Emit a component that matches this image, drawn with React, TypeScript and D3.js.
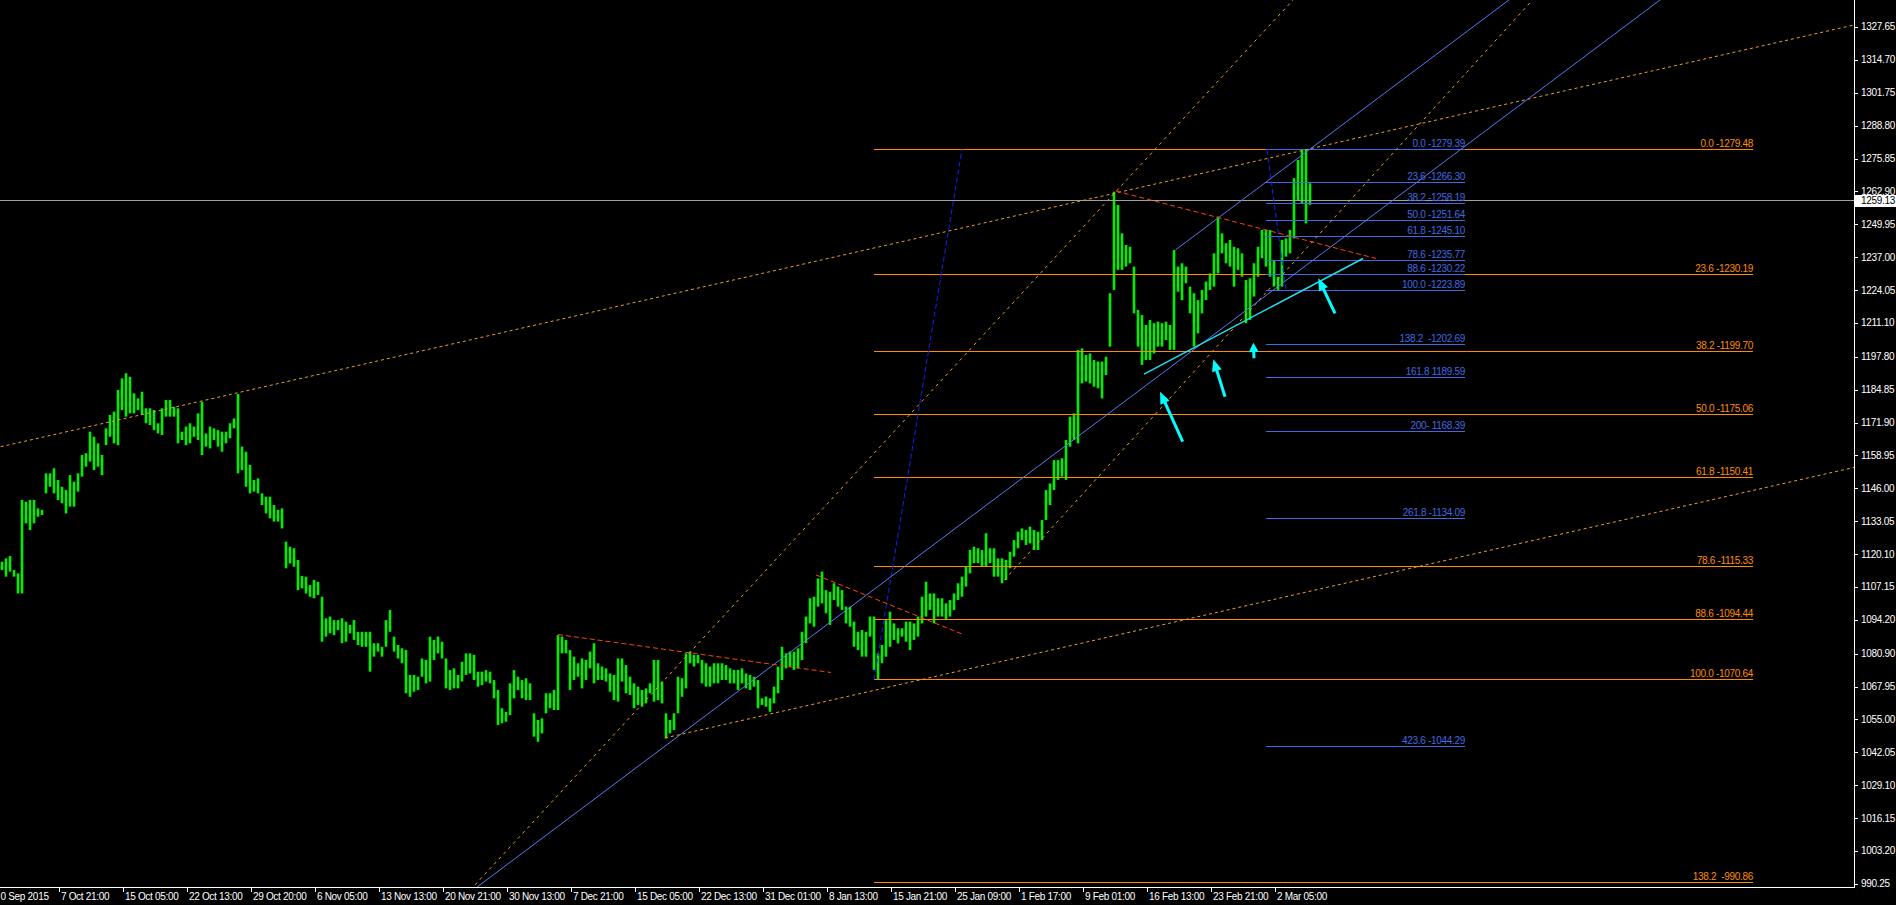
import React from 'react';
import * as d3 from 'd3';

// ---------- DATA ----------
// H4 gold bars, aggregated two bars per entry (high / low prices)
const highs: number[] = [
  1117.1, 1118.4, 1119.3, 1113.8, 1112.5, 1141.4, 1140.7, 1141.4, 1141.4, 1138.1,
  1137.5, 1151.9, 1151.9, 1153.9, 1149.3, 1146.6, 1145.3, 1151.2, 1148.6, 1151.9,
  1159.1, 1159.8, 1168.3, 1166.3, 1163.7, 1159.1, 1169.6, 1174.9, 1176.2, 1184.7,
  1189.3, 1191.3, 1189.9, 1183.4, 1181.4, 1184.0, 1177.5, 1177.5, 1176.8, 1171.6,
  1177.5, 1180.8, 1180.8, 1178.1, 1177.5, 1168.3, 1170.3, 1171.6, 1170.3, 1175.5,
  1180.1, 1167.6, 1170.3, 1169.6, 1168.9, 1168.3, 1168.3, 1171.6, 1173.5, 1183.1,
  1162.4, 1160.4, 1155.2, 1149.3, 1149.9, 1144.0, 1142.7, 1142.7, 1139.4, 1137.5,
  1138.1, 1125.0, 1123.0, 1122.4, 1117.8, 1111.5, 1111.2, 1107.9, 1109.9, 1109.2,
  1103.3, 1094.8, 1095.5, 1094.1, 1094.1, 1094.8, 1093.5, 1092.2, 1094.1, 1089.5,
  1089.5, 1089.5, 1089.5, 1085.0, 1085.0, 1083.6, 1094.1, 1098.1, 1087.6, 1084.3,
  1083.0, 1082.3, 1072.5, 1072.5, 1071.8, 1079.0, 1078.4, 1087.6, 1086.3, 1087.6,
  1085.6, 1079.0, 1074.4, 1075.1, 1072.5, 1077.7, 1081.0, 1081.0, 1080.4, 1073.8,
  1073.8, 1074.4, 1073.8, 1070.5, 1066.6, 1059.4, 1058.0, 1069.2, 1074.4, 1071.8,
  1070.5, 1071.2, 1069.2, 1057.4, 1054.8, 1055.4, 1065.3, 1065.3, 1066.6, 1088.2,
  1087.6, 1086.3, 1082.3, 1079.7, 1077.1, 1079.0, 1078.4, 1081.7, 1085.0, 1077.1,
  1075.8, 1075.1, 1073.1, 1072.5, 1079.0, 1079.0, 1076.4, 1071.8, 1069.2, 1067.9,
  1066.6, 1067.2, 1069.2, 1078.4, 1078.4, 1069.9, 1057.4, 1054.8, 1057.4, 1071.8,
  1071.2, 1081.0, 1081.7, 1080.4, 1080.4, 1078.4, 1077.1, 1075.8, 1077.1, 1077.1,
  1077.1, 1076.4, 1075.1, 1074.5, 1074.5, 1075.1, 1073.1, 1072.5, 1071.8, 1070.5,
  1063.3, 1064.0, 1063.3, 1067.9, 1075.8, 1083.6, 1081.0, 1081.7, 1081.7, 1083.0,
  1089.5, 1095.5, 1102.7, 1103.3, 1110.5, 1113.2, 1105.9, 1105.3, 1108.6, 1107.3,
  1105.9, 1099.4, 1099.4, 1093.5, 1089.5, 1090.2, 1089.5, 1095.5, 1095.5, 1081.0,
  1084.3, 1094.1, 1097.4, 1092.8, 1090.9, 1090.9, 1093.5, 1093.5, 1092.8, 1095.5,
  1103.3, 1109.2, 1104.6, 1104.6, 1102.7, 1102.7, 1100.7, 1102.0, 1104.6, 1108.6,
  1111.2, 1115.1, 1121.7, 1123.0, 1122.4, 1121.7, 1128.3, 1122.4, 1122.4, 1118.4,
  1118.4, 1117.8, 1121.0, 1125.6, 1128.9, 1130.2, 1129.6, 1130.9, 1129.6, 1128.9,
  1133.5, 1145.3, 1147.9, 1157.1, 1157.1, 1157.8, 1165.0, 1174.2, 1175.5, 1200.5,
  1201.1, 1198.5, 1199.1, 1196.5, 1195.9, 1195.9, 1197.8, 1222.8, 1262.8, 1257.6,
  1246.4, 1241.8, 1241.1, 1233.3, 1216.2, 1214.2, 1210.3, 1212.3, 1211.0, 1211.6,
  1211.0, 1211.6, 1210.3, 1239.8, 1233.3, 1234.6, 1233.3, 1225.4, 1222.8, 1220.1,
  1224.1, 1227.4, 1230.6, 1238.5, 1253.0, 1246.4, 1242.5, 1243.8, 1241.1, 1240.5,
  1238.5, 1228.0, 1228.7, 1234.6, 1241.1, 1247.7, 1247.7, 1247.7, 1235.9, 1229.3,
  1243.8, 1244.4, 1247.7, 1268.1, 1275.3, 1279.2, 1279.5, 1266.1,
];
const lows: number[] = [
  1113.8, 1111.2, 1113.2, 1111.2, 1104.6, 1104.6, 1132.2, 1129.6, 1132.2, 1134.8,
  1135.5, 1144.0, 1146.6, 1144.0, 1141.4, 1140.1, 1136.1, 1138.8, 1138.8, 1144.7,
  1150.6, 1154.5, 1156.5, 1153.2, 1154.5, 1151.2, 1163.0, 1166.3, 1163.7, 1163.0,
  1176.8, 1174.2, 1175.5, 1175.5, 1176.8, 1174.9, 1171.6, 1170.9, 1168.9, 1167.6,
  1167.0, 1174.2, 1174.2, 1174.2, 1163.7, 1165.0, 1163.0, 1163.7, 1166.3, 1165.0,
  1159.1, 1162.4, 1161.7, 1165.0, 1162.4, 1160.4, 1163.7, 1165.7, 1169.6, 1151.9,
  1153.2, 1146.6, 1144.0, 1144.7, 1144.0, 1139.4, 1136.1, 1134.2, 1132.9, 1132.9,
  1130.2, 1114.5, 1116.4, 1115.1, 1105.9, 1106.6, 1104.6, 1103.3, 1102.7, 1104.0,
  1085.6, 1087.6, 1088.9, 1088.2, 1090.2, 1085.0, 1085.6, 1088.9, 1086.3, 1084.3,
  1083.6, 1083.6, 1073.8, 1079.7, 1081.7, 1079.7, 1083.6, 1089.5, 1081.7, 1079.0,
  1077.1, 1065.3, 1063.9, 1065.9, 1066.6, 1071.8, 1069.2, 1069.9, 1078.4, 1081.0,
  1079.0, 1067.2, 1066.6, 1067.2, 1067.2, 1069.9, 1072.5, 1073.1, 1070.5, 1067.9,
  1068.5, 1069.9, 1069.2, 1063.3, 1052.8, 1053.5, 1054.1, 1056.7, 1063.3, 1066.6,
  1063.3, 1062.6, 1062.6, 1048.2, 1046.2, 1049.5, 1057.4, 1059.4, 1058.7, 1058.7,
  1081.0, 1081.0, 1066.6, 1070.5, 1071.8, 1067.2, 1070.5, 1075.1, 1069.2, 1070.5,
  1070.5, 1069.9, 1065.9, 1062.6, 1062.0, 1069.9, 1065.3, 1064.6, 1059.4, 1060.7,
  1060.0, 1061.3, 1065.3, 1062.0, 1062.6, 1061.3, 1047.5, 1049.5, 1050.8, 1057.4,
  1063.9, 1067.2, 1077.1, 1075.8, 1077.1, 1069.2, 1067.9, 1067.9, 1069.2, 1069.2,
  1070.5, 1070.5, 1069.2, 1069.2, 1066.6, 1069.2, 1067.2, 1066.6, 1067.9, 1059.4,
  1060.7, 1060.0, 1058.0, 1061.3, 1065.3, 1070.5, 1075.1, 1075.8, 1074.5, 1075.1,
  1078.4, 1085.0, 1092.8, 1091.5, 1099.4, 1100.7, 1096.8, 1092.2, 1102.0, 1099.4,
  1098.1, 1092.8, 1091.5, 1083.6, 1082.3, 1079.7, 1079.7, 1087.6, 1074.5, 1070.5,
  1077.1, 1079.7, 1083.6, 1086.3, 1084.9, 1087.6, 1085.6, 1082.3, 1086.3, 1087.6,
  1092.8, 1095.5, 1098.1, 1092.8, 1095.5, 1095.5, 1094.1, 1095.5, 1098.1, 1102.0,
  1103.3, 1107.3, 1112.5, 1116.5, 1116.5, 1115.1, 1115.1, 1116.5, 1111.2, 1111.2,
  1108.6, 1109.9, 1114.5, 1119.1, 1122.4, 1125.6, 1123.7, 1124.3, 1121.7, 1121.7,
  1125.6, 1133.5, 1139.4, 1145.3, 1149.3, 1150.6, 1149.3, 1162.4, 1165.0, 1163.7,
  1187.3, 1188.0, 1187.3, 1186.0, 1185.4, 1181.4, 1190.6, 1201.8, 1224.1, 1232.0,
  1232.0, 1233.3, 1234.6, 1214.9, 1201.8, 1194.6, 1196.5, 1196.5, 1199.1, 1201.8,
  1201.8, 1204.4, 1200.5, 1200.5, 1223.4, 1220.1, 1226.7, 1214.9, 1201.8, 1207.0,
  1214.9, 1220.1, 1224.1, 1225.4, 1230.6, 1238.5, 1234.6, 1233.3, 1225.4, 1232.0,
  1229.3, 1211.0, 1212.3, 1221.5, 1229.3, 1236.6, 1233.3, 1229.3, 1225.4, 1224.1,
  1225.4, 1237.2, 1238.5, 1244.4, 1259.5, 1258.2, 1250.3, 1257.6,
];
const FIRST_BAR = 3.3; // bar index of first entry
const BARS_PER_ENTRY = 2;

const priceTicks = [1327.65, 1314.70, 1301.75, 1288.80, 1275.85, 1262.90, 1249.95, 1237.00, 1224.05, 1211.10, 1197.80, 1184.85, 1171.90, 1158.95, 1146.00, 1133.05, 1120.10, 1107.15, 1094.20, 1080.90, 1067.95, 1055.00, 1042.05, 1029.10, 1016.15, 1003.20, 990.25];
const timeLabels = ['0 Sep 2015', '7 Oct 21:00', '15 Oct 05:00', '22 Oct 13:00', '29 Oct 20:00', '6 Nov 05:00', '13 Nov 13:00', '20 Nov 21:00', '30 Nov 13:00', '7 Dec 21:00', '15 Dec 05:00', '22 Dec 13:00', '31 Dec 01:00', '8 Jan 13:00', '15 Jan 21:00', '25 Jan 09:00', '1 Feb 17:00', '9 Feb 01:00', '16 Feb 13:00', '23 Feb 21:00', '2 Mar 05:00'];
const BARS_PER_TIME_LABEL = 32;
const bidPrice = 1259.13;

const orangeFibPrices = [1279.48, 1230.19, 1199.70, 1175.06, 1150.41, 1115.33, 1094.44, 1070.64, 990.86];
const orangeFibLabels = ['0.0 -1279.48', '23.6 -1230.19', '38.2 -1199.70', '50.0 -1175.06', '61.8 -1150.41', '78.6 -1115.33', '88.6 -1094.44', '100.0 -1070.64', '138.2  -990.86'];
const orangeFibSpan = [439.3, 878.8];
const orangeFibTrend = [[439.3, 1070.64], [483.3, 1279.48]];

const blueFibPrices = [1279.39, 1266.30, 1258.19, 1251.64, 1245.10, 1235.77, 1230.22, 1223.89, 1202.69, 1189.59, 1168.39, 1134.09, 1044.29];
const blueFibLabels = ['0.0 -1279.39', '23.6 -1266.30', '38.2 -1258.19', '50.0 -1251.64', '61.8 -1245.10', '78.6 -1235.77', '88.6 -1230.22', '100.0 -1223.89', '138.2  -1202.69', '161.8 1189.59', '200- 1168.39', '261.8 -1134.09', '423.6 -1044.29'];
const blueFibSpan = [635.3, 734.8];
const blueFibTrend = [[635.8, 1279.39], [645.3, 1223.89]];

// trend lines: anchor points [bar index, price]
const longResistance = [[120.6, 1183.5], [560.3, 1262.3]];
const longSupport = [[334.8, 1047.7], [560.3, 1088.1]];
const steepDotted1 = [[238.8, 988.98], [648.8, 1338.27]];
const steepDotted2 = [[504.55, 1109.98], [768.55, 1338.27]];
const channelLow = [[240.8, 988.98], [832.3, 1338.27]];
const channelHigh = [[590.0, 1239.83], [757.3, 1338.6]];
const cyanLine = [[574.3, 1190.98], [683.8, 1236.48]];
const redDash1 = [[281.3, 1088.43], [417.8, 1073.48]];
const redDash2 = [[410.3, 1111.88], [483.3, 1088.63]];
const redDash3 = [[560.3, 1263.06], [690.3, 1236.48]];

// arrows: [tail, head] as [bar index, price]
const arrows = [
  [[593.65, 1164.35], [582.3, 1184.04]],
  [[614.8, 1182.07], [608.95, 1196.79]],
  [[629.3, 1197.19], [628.95, 1203.33]],
  [[669.8, 1214.91], [661.45, 1228.69]],
];

// ---------- LAYOUT ----------
const W = 1896;
const H = 905;
const PLOT_R = 1854;
const PLOT_B = 887;
const FONT = "'Liberation Sans', Arial, sans-serif";

const x = d3.scaleLinear().domain([0, BARS_PER_TIME_LABEL]).range([-4.6, 59.4]);
const y = d3.scaleLinear().domain([990.86, 1279.48]).range([882.3, 149.3]);

type Pt = number[];
function extend(pts: Pt[], mode: 'both' | 'fwd' | 'seg'): Pt[] {
  const [a, b] = pts;
  if (mode === 'seg') return [a, b];
  const slope = (b[1] - a[1]) / (b[0] - a[0]);
  const at = (bb: number) => [bb, a[1] + slope * (bb - a[0])];
  return mode === 'both' ? [at(-50), at(1100)] : [a, at(1100)];
}

const TLine = ({ pts, mode, color, dash, width = 1 }: any) => {
  const [p1, p2] = extend(pts, mode);
  return (
    <line x1={x(p1[0])} y1={y(p1[1])} x2={x(p2[0])} y2={y(p2[1])}
      stroke={color} strokeWidth={width} strokeDasharray={dash} />
  );
};

const Arrow = ({ tail, head }: any) => {
  const tx = x(tail[0]), ty = y(tail[1]);
  const hx = x(head[0]), hy = y(head[1]);
  const dx = hx - tx, dy = hy - ty;
  const len = Math.hypot(dx, dy);
  const ux = dx / len, uy = dy / len;
  const nx = -uy, ny = ux;
  const L = Math.min(12, len * 0.6);
  const w = 5;
  const bx = hx - ux * L, by = hy - uy * L;
  const poly = `${hx},${hy} ${bx + nx * w},${by + ny * w} ${bx - nx * w},${by - ny * w}`;
  return (
    <g>
      <line x1={tx} y1={ty} x2={bx + ux * 1} y2={by + uy * 1} stroke="#00ffff" strokeWidth={3} />
      <polygon points={poly} fill="#00ffff" />
    </g>
  );
};

export default function App() {
  const barX = (j: number) => x(FIRST_BAR + BARS_PER_ENTRY * j);
  const yBid = y(bidPrice);
  const dotOrange = '#f0a020';
  const labelProps: any = { fontSize: 10, letterSpacing: -0.3, style: { whiteSpace: 'pre' }, xmlSpace: 'preserve' };
  return (
    <svg width={W} height={H} style={{ position: 'fixed', left: 0, top: 0, display: 'block', background: '#000' }}
      fontFamily={FONT}>
      <defs>
        <clipPath id="plot"><rect x={0} y={0} width={PLOT_R} height={PLOT_B} /></clipPath>
      </defs>
      <rect x={0} y={0} width={W} height={H} fill="#000" />

      <g clipPath="url(#plot)">
        {/* price bars */}
        <g stroke="#00ee00" strokeWidth={2.6}>
          {highs.map((h, j) => (
            <line key={j} x1={barX(j)} x2={barX(j)} y1={y(h)} y2={Math.max(y(lows[j]), y(h) + 1)} />
          ))}
        </g>

        {/* bid line */}
        <line x1={0} x2={PLOT_R} y1={yBid} y2={yBid} stroke="#a0a0a0" strokeWidth={1} shapeRendering="crispEdges" />

        {/* orange fibonacci */}
        <g shapeRendering="crispEdges">
          {orangeFibPrices.map((p, i) => (
            <line key={i} x1={x(orangeFibSpan[0])} x2={x(orangeFibSpan[1])} y1={y(p)} y2={y(p)} stroke="#ff8c00" strokeWidth={1} />
          ))}
        </g>
        <g fill="#ff8c00" textAnchor="end">
          {orangeFibPrices.map((p, i) => (
            <text key={i} {...labelProps} x={x(orangeFibSpan[1])} y={y(p) - 2.5}>{orangeFibLabels[i]}</text>
          ))}
        </g>
        <TLine pts={orangeFibTrend} mode="seg" color="#1020ff" dash="5,3" />

        {/* blue fibonacci */}
        <g shapeRendering="crispEdges">
          {blueFibPrices.map((p, i) => (
            <line key={i} x1={x(blueFibSpan[0])} x2={x(blueFibSpan[1])} y1={y(p)} y2={y(p)} stroke="#4169e1" strokeWidth={1} />
          ))}
        </g>
        <g fill="#4169e1" textAnchor="end">
          {blueFibPrices.map((p, i) => (
            <text key={i} {...labelProps} x={x(blueFibSpan[1])} y={y(p) - 2.5}>{blueFibLabels[i]}</text>
          ))}
        </g>
        <TLine pts={blueFibTrend} mode="seg" color="#1020ff" dash="5,3" />

        {/* trend lines */}
        <TLine pts={longResistance} mode="both" color={dotOrange} dash="3,3" />
        <TLine pts={longSupport} mode="fwd" color={dotOrange} dash="3,3" />
        <TLine pts={steepDotted1} mode="both" color={dotOrange} dash="3,4" />
        <TLine pts={steepDotted2} mode="fwd" color={dotOrange} dash="3,4" />
        <TLine pts={channelLow} mode="both" color="#5c78f5" />
        <TLine pts={channelHigh} mode="fwd" color="#5c78f5" />
        <TLine pts={redDash1} mode="seg" color="#ff4500" dash="5,3" />
        <TLine pts={redDash2} mode="seg" color="#ff4500" dash="5,3" />
        <TLine pts={redDash3} mode="seg" color="#ff4500" dash="5,3" />
        <TLine pts={cyanLine} mode="seg" color="#20e0f0" width={1.5} />

        {arrows.map((a, i) => <Arrow key={i} tail={a[0]} head={a[1]} />)}
      </g>

      {/* axes */}
      <g stroke="#ffffff" strokeWidth={1} shapeRendering="crispEdges">
        <line x1={PLOT_R + 0.5} x2={PLOT_R + 0.5} y1={0} y2={PLOT_B + 0.5} />
        <line x1={0} x2={PLOT_R + 0.5} y1={PLOT_B + 0.5} y2={PLOT_B + 0.5} />
        {priceTicks.map((p, i) => (
          <line key={i} x1={PLOT_R + 1} x2={PLOT_R + 4} y1={Math.round(y(p)) + 0.5} y2={Math.round(y(p)) + 0.5} />
        ))}
        {timeLabels.map((t, k) => (
          <line key={k} x1={Math.round(x(k * BARS_PER_TIME_LABEL)) + 0.5} x2={Math.round(x(k * BARS_PER_TIME_LABEL)) + 0.5} y1={PLOT_B} y2={PLOT_B + 5} />
        ))}
      </g>
      <g fill="#ffffff">
        {priceTicks.map((p, i) => (
          <text key={i} {...labelProps} x={PLOT_R + 7} y={y(p) + 3.5}>{p.toFixed(2)}</text>
        ))}
        {timeLabels.map((t, k) => (
          <text key={k} {...labelProps} x={k === 0 ? 0.5 : x(k * BARS_PER_TIME_LABEL) + 1.5} y={900}>{t}</text>
        ))}
      </g>
      {/* bid price box */}
      <rect x={PLOT_R + 1} y={yBid - 6} width={W - PLOT_R - 1} height={12} fill="#ffffff" />
      <text {...labelProps} x={PLOT_R + 7} y={yBid + 3.5} fill="#000000">{bidPrice.toFixed(2)}</text>
    </svg>
  );
}
